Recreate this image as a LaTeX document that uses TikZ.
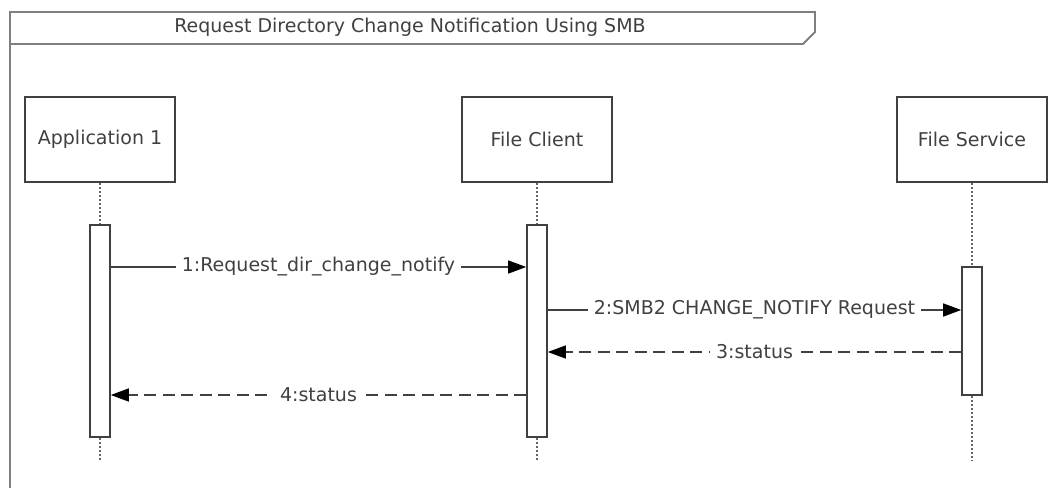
\documentclass[tikz,border=0pt]{standalone}
\usepackage{fontspec}
\setmainfont{DejaVu Sans}
\usetikzlibrary{arrows.meta}
\definecolor{inkgray}{HTML}{404040}
\definecolor{framegray}{HTML}{7F7F7F}

\begin{document}
\begin{tikzpicture}[x=1pt,y=-1pt,
        font=\fontsize{19}{22}\selectfont,
        head/.style={draw=inkgray,line width=1.3pt,minimum width=150pt,minimum height=85pt,inner sep=0pt,text=inkgray},
        actbar/.style={draw=inkgray,line width=1.6pt,fill=white,minimum width=20pt,inner sep=0pt},
        life/.style={draw=framegray!80!black,line width=2pt,dash pattern=on 2pt off 2pt},
        msg/.style={draw=inkgray,line width=1.4pt,-{Triangle[length=18pt,width=13pt,color=black]}},
        reply/.style={msg,dash pattern=on 12pt off 6.5pt},
        lbl/.style={fill=white,inner xsep=6pt,inner ysep=3pt,text=inkgray}]
                \useasboundingbox (0,0) rectangle (1051,487);

                \draw[framegray,line width=1.8pt] (10,490) -- (10,12) -- (815,12) -- (815,32) -- (803,44) -- (10,44);
                \node[text=inkgray] (title) at (410,27) {Request Directory Change Notification Using SMB};

                \node[head] (app) at (100,139.5) {Application 1};
                \node[head] (client) at (537,139.5) {File Client};
                \node[head] (service) at (972,139.5) {File Service};

                \node[actbar,minimum height=212pt] (appact) at (100,331) {};
                \node[actbar,minimum height=212pt] (clientact) at (537,331) {};
                \node[actbar,minimum height=128pt] (serviceact) at (972,331) {};

                \coordinate (append) at (100,460);
                \coordinate (clientend) at (537,460);
                \coordinate (serviceend) at (972,460);

                \draw[life] (app.south) -- (appact.north);
                \draw[life] (client.south) -- (clientact.north);
                \draw[life] (service.south) -- (serviceact.north);
                \draw[life] (appact.south) -- (append);
                \draw[life] (clientact.south) -- (clientend);
                \draw[life] (serviceact.south) -- (serviceend);

                \coordinate (y1) at (0,267);
                \coordinate (y2) at (0,310);
                \coordinate (y3) at (0,352);
                \coordinate (y4) at (0,395);

                \draw[msg] (appact.east |- y1) -- node[lbl] {1:Request\_dir\_change\_notify} (clientact.west |- y1);
                \draw[msg] (clientact.east |- y2) -- node[lbl] {2:SMB2 CHANGE\_NOTIFY Request} (serviceact.west |- y2);
                \draw[reply] (serviceact.west |- y3) -- node[lbl] {3:status} (clientact.east |- y3);
                \draw[reply] (clientact.west |- y4) -- node[lbl] {4:status} (appact.east |- y4);
\end{tikzpicture}
\end{document}
